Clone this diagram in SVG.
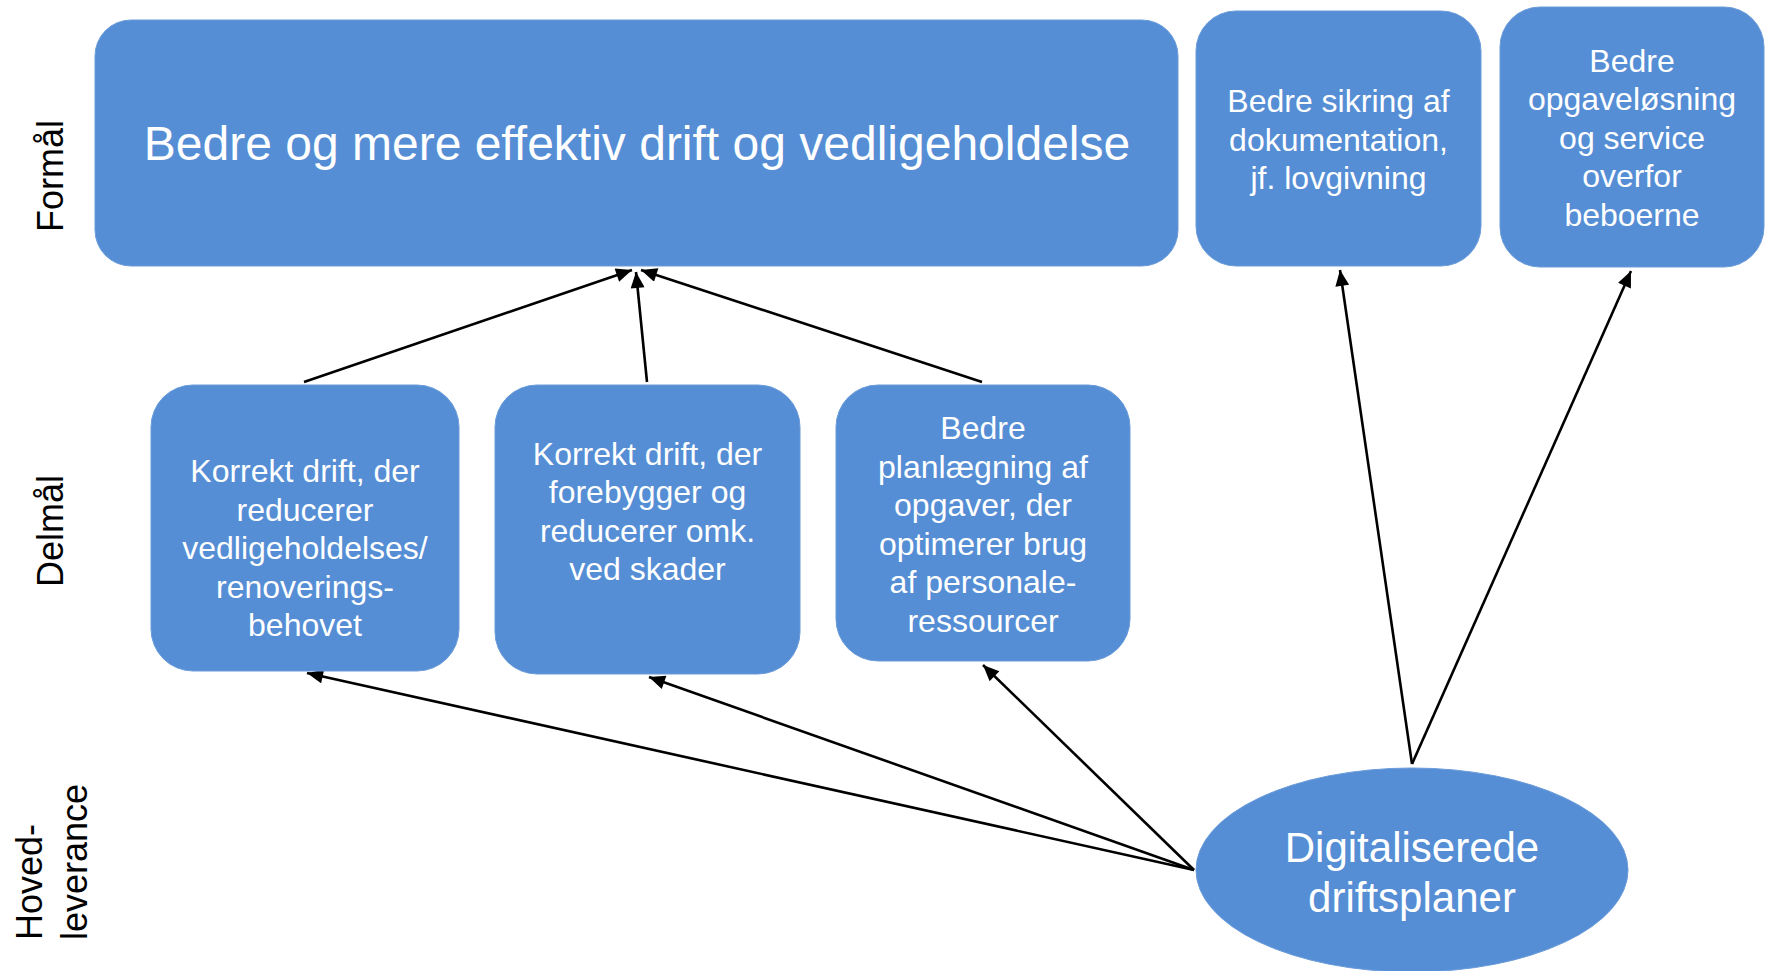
<svg xmlns="http://www.w3.org/2000/svg" width="1766" height="971" viewBox="0 0 1766 971">
<style>
.box{fill:#558ED5;stroke:#6a9bda;stroke-width:1}
.t{font-family:"Liberation Sans",Arial,sans-serif;fill:#ffffff;text-anchor:middle}
.s{font-size:32px}
.lab{font-family:"Liberation Sans",Arial,sans-serif;fill:#000000;font-size:36px}
.c{stroke:#000000;stroke-width:2.6;fill:none;marker-end:url(#ah)}
</style>
<defs>
<marker id="ah" viewBox="0 0 16 14" refX="16" refY="7" markerWidth="17" markerHeight="14" markerUnits="userSpaceOnUse" orient="auto">
<path d="M0,0 L16,7 L0,14 Z" fill="#000000"/>
</marker>
</defs>
<rect width="1766" height="971" fill="#ffffff"/>
<g id="labels">
<text class="lab" text-anchor="middle" transform="translate(63,176) rotate(-90)">Formål</text>
<text class="lab" text-anchor="middle" transform="translate(63,531) rotate(-90)">Delmål</text>
<text class="lab" text-anchor="start" transform="translate(42,940) rotate(-90)">Hoved-</text>
<text class="lab" text-anchor="start" transform="translate(87,940) rotate(-90)">leverance</text>
</g>
<g id="connectors">
<line class="c" x1="304" y1="382" x2="632" y2="270"/>
<line class="c" x1="647" y1="382" x2="636" y2="272"/>
<line class="c" x1="982" y1="382" x2="641" y2="270"/>
<line class="c" x1="1194" y1="870" x2="307" y2="673"/>
<line class="c" x1="1194" y1="870" x2="649" y2="677"/>
<line class="c" x1="1194" y1="870" x2="983" y2="665"/>
<line class="c" x1="1412" y1="764" x2="1340" y2="270"/>
<line class="c" x1="1412" y1="764" x2="1631" y2="271"/>
</g>
<g id="main">
<rect class="box" x="95" y="20" width="1083" height="246" rx="36" ry="36"/>
<text class="t" x="637" y="160" font-size="48">Bedre og mere effektiv drift og vedligeholdelse</text>
</g>
<g id="dokumentation">
<rect class="box" x="1196" y="11" width="285" height="255" rx="40" ry="40"/>
<text class="t s" x="1338.5"><tspan x="1338.5" y="112">Bedre sikring af</tspan><tspan x="1338.5" y="151">dokumentation,</tspan><tspan x="1338.5" y="189">jf. lovgivning</tspan></text>
</g>
<g id="service">
<rect class="box" x="1500" y="7" width="264" height="260" rx="40" ry="40"/>
<text class="t s" x="1632"><tspan x="1632" y="72">Bedre</tspan><tspan x="1632" y="110">opgaveløsning</tspan><tspan x="1632" y="149">og service</tspan><tspan x="1632" y="187">overfor</tspan><tspan x="1632" y="226">beboerne</tspan></text>
</g>
<g id="delmaal1">
<rect class="box" x="151" y="385" width="308" height="286" rx="42" ry="42"/>
<text class="t s" x="305"><tspan x="305" y="482">Korrekt drift, der</tspan><tspan x="305" y="521">reducerer</tspan><tspan x="305" y="559">vedligeholdelses/</tspan><tspan x="305" y="598">renoverings-</tspan><tspan x="305" y="636">behovet</tspan></text>
</g>
<g id="delmaal2">
<rect class="box" x="495" y="385" width="305" height="289" rx="42" ry="42"/>
<text class="t s" x="647.5"><tspan x="647.5" y="465">Korrekt drift, der</tspan><tspan x="647.5" y="503">forebygger og</tspan><tspan x="647.5" y="542">reducerer omk.</tspan><tspan x="647.5" y="580">ved skader</tspan></text>
</g>
<g id="delmaal3">
<rect class="box" x="836" y="385" width="294" height="276" rx="42" ry="42"/>
<text class="t s" x="983"><tspan x="983" y="439">Bedre</tspan><tspan x="983" y="478">planlægning af</tspan><tspan x="983" y="516">opgaver, der</tspan><tspan x="983" y="555">optimerer brug</tspan><tspan x="983" y="593">af personale-</tspan><tspan x="983" y="632">ressourcer</tspan></text>
</g>
<g id="driftsplaner">
<ellipse class="box" cx="1412" cy="870" rx="216" ry="102"/>
<text class="t" x="1412" font-size="42"><tspan x="1412" y="862">Digitaliserede</tspan><tspan x="1412" y="912">driftsplaner</tspan></text>
</g>
</svg>
